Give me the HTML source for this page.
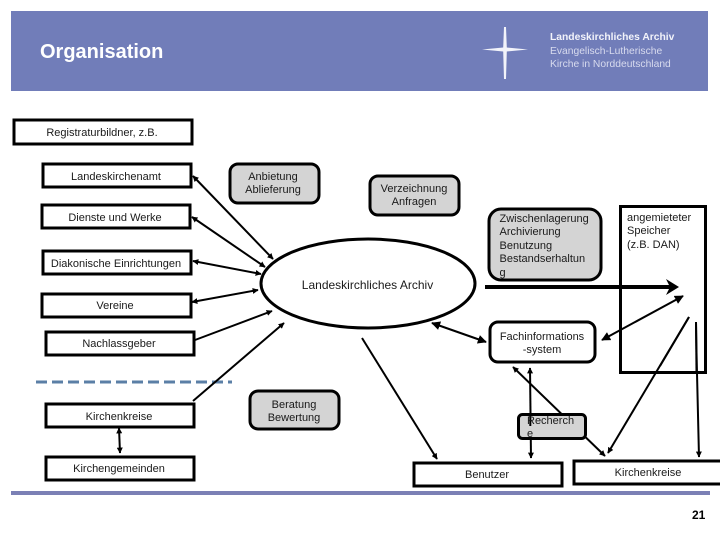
<!DOCTYPE html>
<html>
<head>
<meta charset="utf-8">
<style>
html,body{margin:0;padding:0;background:#fff;width:720px;height:540px;overflow:hidden}
svg{display:block}
text{font-family:"Liberation Sans",sans-serif;font-size:11px;fill:#1a1a1a}
.box{fill:#fff;stroke:#000;stroke-width:3}
.gray{fill:#d4d4d4;stroke:#000;stroke-width:3}
.ln{stroke:#000;stroke-width:2;fill:none}
.m{text-anchor:middle}
</style>
</head>
<body>
<svg width="720" height="540" viewBox="0 0 720 540" xmlns="http://www.w3.org/2000/svg">
<defs>
<marker id="a" viewBox="0 0 10 10" refX="9" refY="5" markerWidth="6" markerHeight="6" orient="auto-start-reverse" markerUnits="userSpaceOnUse"><path d="M0 0L10 5L0 10Z" fill="#000"/></marker>
<marker id="b" viewBox="0 0 10 10" refX="9" refY="5" markerWidth="9" markerHeight="9" orient="auto-start-reverse" markerUnits="userSpaceOnUse"><path d="M0 0L10 5L0 10Z" fill="#000"/></marker>
</defs>

<rect x="11" y="11" width="697" height="80" fill="#717db9"/>
<text x="40" y="58" style="font-size:20px;font-weight:bold;fill:#fff">Organisation</text>
<polygon points="504,27 506,27 506.800,47.500 528,49.500 506.800,51.500 506,79 504,79 503.200,51.500 482,49.500 503.200,47.500" fill="#f2f3fa"/>
<text x="550" y="40" style="font-size:10.300px;font-weight:bold;fill:#f2f3fa">Landeskirchliches Archiv</text>
<text x="550" y="54" style="font-size:10.300px;fill:#d8dbee">Evangelisch-Lutherische</text>
<text x="550" y="67" style="font-size:10.300px;fill:#d8dbee">Kirche in Norddeutschland</text>

<rect x="11" y="491" width="699" height="4" fill="#7b80b5"/>
<line x1="36" y1="382" x2="232" y2="382" stroke="#5b7fa6" stroke-width="3" stroke-dasharray="11 5"/>

<line class="ln" x1="193" y1="176" x2="273" y2="259" marker-end="url(#a)" marker-start="url(#a)"/>
<line class="ln" x1="192" y1="217" x2="265" y2="267" marker-end="url(#a)" marker-start="url(#a)"/>
<line class="ln" x1="193" y1="261" x2="261" y2="274" marker-end="url(#a)" marker-start="url(#a)"/>
<line class="ln" x1="192" y1="302" x2="258" y2="290" marker-end="url(#a)" marker-start="url(#a)"/>
<line class="ln" x1="195" y1="340" x2="272" y2="311" marker-end="url(#a)"/>
<line class="ln" x1="193" y1="401" x2="284" y2="323" marker-end="url(#a)"/>
<line class="ln" x1="119" y1="428" x2="120" y2="453" marker-end="url(#a)" marker-start="url(#a)"/>
<line class="ln" x1="432" y1="323" x2="486" y2="342" marker-end="url(#b)" marker-start="url(#b)"/>
<line class="ln" x1="602" y1="340" x2="683" y2="296" marker-end="url(#b)" marker-start="url(#b)"/>
<line class="ln" x1="689" y1="317" x2="608" y2="453" marker-end="url(#a)"/>
<polyline class="ln" points="696,322 696.500,352 699,457" marker-end="url(#a)"/>
<line class="ln" x1="362" y1="338" x2="437" y2="459" marker-end="url(#a)"/>
<line class="ln" x1="513" y1="367" x2="605" y2="456" marker-end="url(#a)" marker-start="url(#a)"/>
<line class="ln" x1="530" y1="368" x2="531" y2="458" marker-end="url(#a)" marker-start="url(#a)"/>

<ellipse cx="368" cy="283.500" rx="107" ry="44.500" fill="#fff" stroke="#000" stroke-width="3"/>
<text class="m" x="367.500" y="289" style="font-size:12px">Landeskirchliches Archiv</text>

<rect class="box" x="14" y="120" width="178" height="24"/>
<text class="m" x="102" y="136">Registraturbildner, z.B.</text>
<rect class="box" x="43" y="164" width="148" height="23"/>
<text class="m" x="116" y="180">Landeskirchenamt</text>
<rect class="box" x="42" y="205" width="148" height="23"/>
<text class="m" x="115" y="221">Dienste und Werke</text>
<rect class="box" x="43" y="251" width="148" height="23"/>
<text class="m" x="116" y="267">Diakonische Einrichtungen</text>
<rect class="box" x="42" y="294" width="149" height="23"/>
<text class="m" x="115" y="309">Vereine</text>
<rect class="box" x="46" y="332" width="148" height="23"/>
<text class="m" x="119" y="347">Nachlassgeber</text>
<rect class="box" x="46" y="404" width="148" height="23"/>
<text class="m" x="119" y="420">Kirchenkreise</text>
<rect class="box" x="46" y="457" width="148" height="23"/>
<text class="m" x="119" y="472">Kirchengemeinden</text>

<rect class="gray" x="230" y="164" width="89" height="39" rx="8"/>
<text class="m" x="273" y="180">Anbietung</text>
<text class="m" x="273" y="193">Ablieferung</text>
<rect class="gray" x="370" y="176" width="89" height="39" rx="8"/>
<text class="m" x="414" y="192">Verzeichnung</text>
<text class="m" x="414" y="205">Anfragen</text>
<rect class="gray" x="489" y="209" width="112" height="71" rx="12"/>
<text x="499.500" y="222">Zwischenlagerung</text>
<text x="499.500" y="235">Archivierung</text>
<text x="499.500" y="249">Benutzung</text>
<text x="499.500" y="262">Bestandserhaltun</text>
<text x="499.500" y="276">g</text>
<rect class="gray" x="250" y="391" width="89" height="38" rx="8"/>
<text class="m" x="294" y="408">Beratung</text>
<text class="m" x="294" y="421">Bewertung</text>

<rect x="620.500" y="206.500" width="85" height="166" fill="none" stroke="#000" stroke-width="3"/>
<text x="627" y="221">angemieteter</text>
<text x="627" y="234">Speicher</text>
<text x="627" y="248">(z.B. DAN)</text>
<line class="ln" x1="689" y1="317" x2="660" y2="366"/>
<line class="ln" x1="696" y1="322" x2="696.500" y2="373"/>
<line x1="485" y1="287" x2="672" y2="287" stroke="#000" stroke-width="4"/>
<path d="M666 279L679 287L666 295L670 287Z" fill="#000"/>

<rect class="box" x="490" y="322" width="105" height="40" rx="8"/>
<text class="m" x="542" y="340">Fachinformations</text>
<text class="m" x="542" y="353">-system</text>

<rect class="gray" x="518.500" y="414.500" width="67" height="24" rx="4"/>
<line class="ln" x1="530.300" y1="414" x2="530.300" y2="426"/>
<text x="527" y="424">Recherch</text>
<text x="527" y="437">e</text>

<rect class="box" x="414" y="463" width="148" height="23"/>
<text class="m" x="487" y="478">Benutzer</text>
<rect x="574" y="461" width="150" height="23" fill="#fff" stroke="#000" stroke-width="3"/>
<text class="m" x="648" y="476">Kirchenkreise</text>

<text x="692" y="519" style="font-size:12px;font-weight:bold;fill:#000">21</text>
</svg>
</body>
</html>
